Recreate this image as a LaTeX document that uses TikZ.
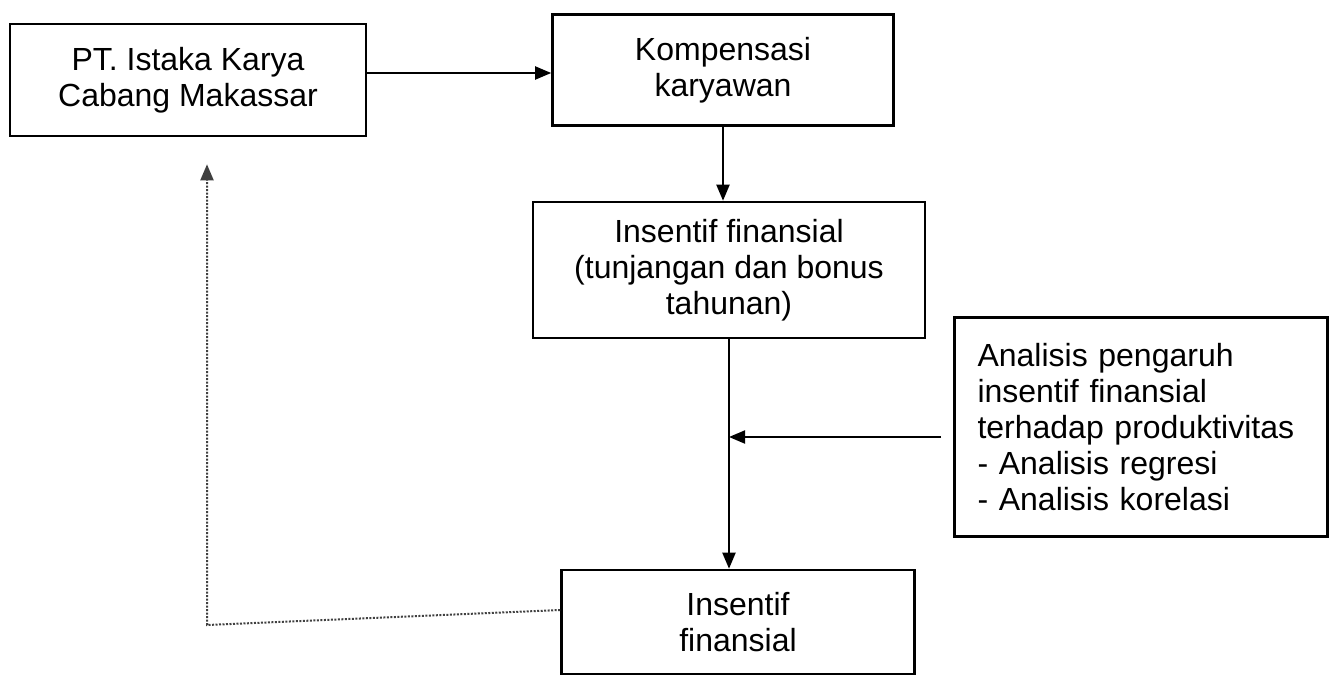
\documentclass[tikz,border=0pt]{standalone}
\usepackage{fontspec}
\setmainfont{Liberation Sans}
\usetikzlibrary{arrows.meta,calc}
\begin{document}
\begin{tikzpicture}[x=1pt,y=-1pt,
  box/.style={draw,line width=2.6pt,inner sep=0pt,font=\fontsize{32}{36}\selectfont,align=center},
  arr/.style={line width=2pt,-{Triangle[length=16pt,width=13pt]}},
  fb/.style={line width=2pt,draw=black!75,dash pattern=on 2pt off 1.5pt,-{Triangle[length=16pt,width=13pt]}}]
\useasboundingbox (0,0) rectangle (1335,677);
\node[box,minimum width=356pt,minimum height=112pt] (A) at (188,80) {PT. Istaka Karya\\Cabang Makassar};
\node[box,minimum width=341pt,minimum height=111pt] (B) at (723,70) {Kompensasi\\karyawan};
\node[box,minimum width=392pt,minimum height=136pt] (C) at (729,270) {Insentif finansial\\(tunjangan dan bonus\\tahunan)};
\node[box,minimum width=373pt,minimum height=219pt,align=left,text width=327pt] (D) at (1141,427) {Analisis pengaruh\\insentif finansial\\terhadap produktivitas\\- Analisis regresi\\- Analisis korelasi};
\node[box,minimum width=353pt,minimum height=104pt] (E) at (738,622) {Insentif\\finansial};
\draw[arr] (A.east |- 0,73) -- (B.west |- 0,73);
\draw[arr] (B.south) -- (B.south |- C.north);
\draw[arr] (C.south) -- (C.south |- E.north);
\coordinate (dstart) at ($(D.west)+(-12,10)$);
\draw[arr] (dstart) -- (dstart -| C.south);
\coordinate (fbs) at ($(E.west)+(0,-12)$);
\coordinate (fbc) at (207,625);
\coordinate (fbt) at ($(A.south)+(0,27)$);
\draw[fb] (fbs) -- (fbc) -- (fbc |- fbt);
\end{tikzpicture}
\end{document}
